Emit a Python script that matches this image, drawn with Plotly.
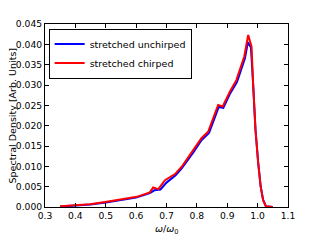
import plotly.graph_objects as go

# Frequency (omega/omega_0) and spectral density values
x_red = [0.35, 0.40, 0.448, 0.503, 0.547, 0.602, 0.645, 0.656, 0.673, 0.695, 0.728, 0.75,
         0.788, 0.815, 0.837, 0.859, 0.87, 0.885, 0.909, 0.93, 0.947, 0.956, 0.969, 0.98,
         0.985, 0.993, 1.002, 1.01, 1.018, 1.027, 1.05]
y_red = [0.0002, 0.0004, 0.0007, 0.0013, 0.0019, 0.0025, 0.0036, 0.0048, 0.0044, 0.0066, 0.0081, 0.0099,
         0.014, 0.0169, 0.0185, 0.023, 0.0251, 0.0247, 0.0284, 0.0312, 0.0353, 0.037, 0.0423, 0.0394,
         0.0305, 0.0189, 0.0107, 0.005, 0.0017, 0.0002, 0.0]

x_blue = [0.35, 0.40, 0.45, 0.50, 0.55, 0.60, 0.645, 0.66, 0.68, 0.70, 0.73, 0.75,
          0.79, 0.815, 0.84, 0.86, 0.872, 0.887, 0.91, 0.932, 0.95, 0.958, 0.968, 0.978,
          0.985, 0.993, 1.002, 1.01, 1.018, 1.027, 1.05]
y_blue = [0.0001, 0.0003, 0.0006, 0.0011, 0.0017, 0.0023, 0.0034, 0.0041, 0.0043, 0.006, 0.0078, 0.0095,
          0.0136, 0.0164, 0.0182, 0.0224, 0.0246, 0.0244, 0.028, 0.0307, 0.0348, 0.0365, 0.0405, 0.0392,
          0.0305, 0.019, 0.0108, 0.0051, 0.0018, 0.0002, 0.0]

x_ticks = [0.3, 0.4, 0.5, 0.6, 0.7, 0.8, 0.9, 1.0, 1.1]
y_ticks = [0.000, 0.005, 0.010, 0.015, 0.020, 0.025, 0.030, 0.035, 0.040, 0.045]

x_title = "<i>ω</i>/<i>ω</i><sub>0</sub>"
y_title = "Spectral Density [Arb. Units]"

fig = go.Figure()
fig.add_trace(go.Scatter(x=x_blue, y=y_blue, mode="lines", name="stretched unchirped",
                         line=dict(color="#0000ff", width=2)))
fig.add_trace(go.Scatter(x=x_red, y=y_red, mode="lines", name="stretched chirped",
                         line=dict(color="#ff0000", width=2)))

axis_common = dict(showline=True, linecolor="black", linewidth=1, mirror="ticks",
                   ticks="inside", ticklen=4, tickcolor="black", showgrid=False,
                   zeroline=False, automargin=False,
                   tickfont=dict(family="DejaVu Sans", size=9.2, color="black"))

fig.update_xaxes(range=[0.3, 1.1], tickvals=x_ticks, ticktext=[f"{v:.1f}" for v in x_ticks],
                 **axis_common)
fig.update_yaxes(range=[0.0, 0.045], tickvals=y_ticks, ticktext=[f"{v:.3f}" for v in y_ticks],
                 **axis_common)

fig.add_annotation(text=y_title, xref="paper", yref="paper", x=0, y=0.5,
                   xanchor="center", yanchor="middle", xshift=-33, textangle=-90,
                   borderpad=0, showarrow=False,
                   font=dict(family="DejaVu Sans", size=9.5, color="black"))
fig.add_annotation(text=x_title, xref="paper", yref="paper", x=0.5, y=0,
                   xanchor="center", yanchor="middle", yshift=-22,
                   showarrow=False, font=dict(family="DejaVu Sans", size=9.5, color="black"))

fig.update_layout(
    width=313, height=233,
    margin=dict(l=37, r=33, t=16, b=34),
    plot_bgcolor="white", paper_bgcolor="white",
    font=dict(family="DejaVu Sans", size=9.5, color="black"),
    legend=dict(x=0.015, y=0.975, xanchor="left", yanchor="top",
                bordercolor="black", borderwidth=1, bgcolor="white",
                font=dict(family="DejaVu Sans", size=9.5, color="black"),
                tracegroupgap=0, itemwidth=30),
    showlegend=True,
)

fig.write_html("out.html")
